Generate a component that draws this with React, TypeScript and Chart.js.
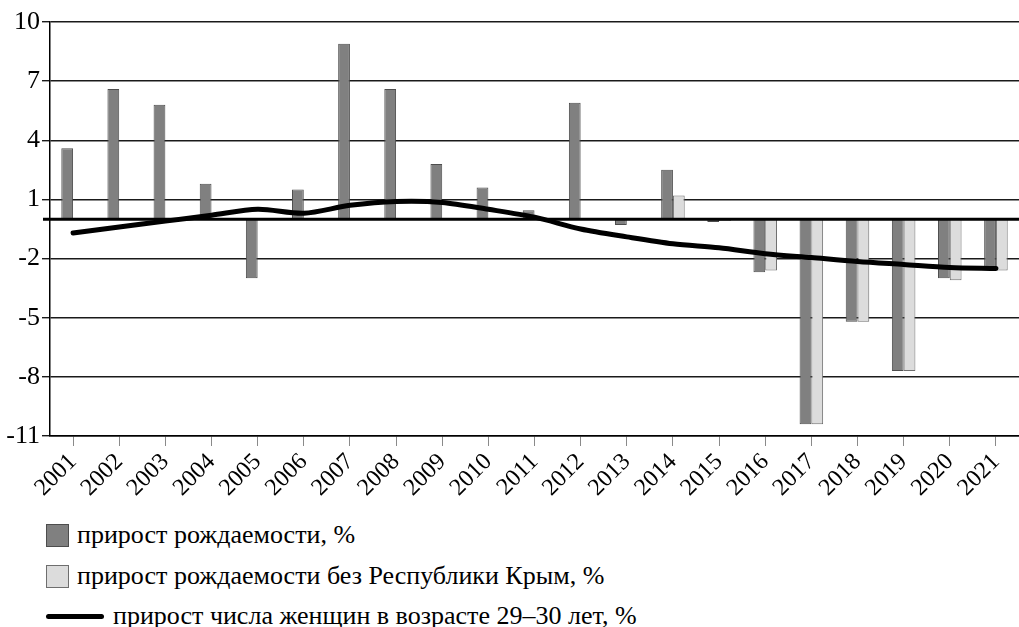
import React, { useEffect, useRef } from "react";
import { Chart, registerables } from "chart.js";

Chart.register(...registerables);

const years = ["2001","2002","2003","2004","2005","2006","2007","2008","2009","2010","2011","2012","2013","2014","2015","2016","2017","2018","2019","2020","2021"];
const birthGrowth = [3.6, 6.6, 5.8, 1.8, -3.0, 1.5, 8.9, 6.6, 2.8, 1.6, 0.45, 5.9, -0.3, 2.5, -0.15, -2.7, -10.4, -5.2, -7.7, -3.0, -2.5];
const birthGrowthNoCrimea = [null, null, null, null, null, null, null, null, null, null, null, null, null, 1.2, -0.1, -2.6, -10.4, -5.2, -7.7, -3.1, -2.6];
const womenGrowth = [-0.7, -0.4, -0.1, 0.2, 0.5, 0.3, 0.7, 0.9, 0.85, 0.5, 0.1, -0.5, -0.9, -1.25, -1.45, -1.75, -1.95, -2.15, -2.3, -2.45, -2.5];
const yTicks = [-11, -8, -5, -2, 1, 4, 7, 10];

const labelBirth = "прирост рождаемости, %";
const labelNoCrimea = "прирост рождаемости без Республики Крым, %";
const labelWomen = "прирост числа женщин в возрасте 29–30 лет, %";

const FONT = '"Liberation Serif", "DejaVu Serif", Tinos, "Times New Roman", Times, serif';

const zeroLine = {
  id: "zeroLine",
  afterDatasetsDraw(chart: any) {
    const y = chart.scales.y.getPixelForValue(0);
    const { left, right } = chart.chartArea;
    const ctx = chart.ctx;
    ctx.save();
    ctx.strokeStyle = "#000";
    ctx.lineWidth = 3;
    ctx.beginPath();
    ctx.moveTo(left - 7, y);
    ctx.lineTo(right, y);
    ctx.stroke();
    ctx.restore();
  },
};

export default function App() {
  const ref = useRef<HTMLCanvasElement>(null);
  useEffect(() => {
    if (!ref.current) return;
    const chart = new Chart(ref.current, {
      type: "bar",
      data: {
        labels: years,
        datasets: [
          {
            type: "line",
            label: labelWomen,
            data: womenGrowth,
            borderColor: "#000",
            borderWidth: 5,
            pointRadius: 0,
            tension: 0.3,
            borderCapStyle: "round",
            borderJoinStyle: "round",
            order: 0,
          } as any,
          {
            label: labelBirth,
            data: birthGrowth,
            backgroundColor: "#808080",
            borderColor: "#4d4d4d",
            borderWidth: 1,
            order: 1,
          },
          {
            label: labelNoCrimea,
            data: birthGrowthNoCrimea as any,
            backgroundColor: "#dcdcdc",
            borderColor: "#6e6e6e",
            borderWidth: 1,
            order: 2,
          },
        ],
      },
      options: {
        animation: false,
        responsive: false,
        maintainAspectRatio: false,
        layout: { padding: { top: 22, right: 0, left: 0, bottom: 0 } },
        datasets: { bar: { categoryPercentage: 0.51, barPercentage: 1.0 } },
        plugins: { legend: { display: false }, tooltip: { enabled: false } },
        scales: {
          x: {
            offset: true,
            grid: { display: true, drawOnChartArea: false, drawTicks: true, tickLength: 10, color: "#8a8a8a", offset: false, lineWidth: 1 },
            border: { display: true, color: "#000", width: 1.5 },
            ticks: { color: "#000", font: { family: FONT, size: 24 }, minRotation: 45, maxRotation: 45, padding: 2, autoSkip: false },
            afterFit: (s: any) => { s.height = 64; },
          },
          y: {
            min: -11,
            max: 10,
            afterBuildTicks: (s: any) => { s.ticks = yTicks.map((v) => ({ value: v })); },
            grid: { color: "#1a1a1a", lineWidth: 1.4, drawTicks: true, tickLength: 8 },
            border: { display: true, color: "#000", width: 1.5 },
            ticks: { color: "#000", font: { family: FONT, size: 26 }, padding: 2 },
            afterFit: (s: any) => { s.width = 50; },
          },
        },
      },
      plugins: [zeroLine],
    });
    return () => chart.destroy();
  }, []);

  const row: React.CSSProperties = { position: "absolute", left: 46, display: "flex", alignItems: "center", height: 30, fontFamily: FONT, fontSize: 26, color: "#000", whiteSpace: "nowrap" };
  const box = (bg: string, bd: string): React.CSSProperties => ({ width: 21, height: 21, background: bg, border: `1px solid ${bd}`, marginRight: 8 });

  return (
    <div style={{ position: "absolute", left: 0, top: 0, width: 1019, height: 627, background: "#fff" }}>
      <canvas ref={ref} width={1019} height={500} style={{ position: "absolute", left: 0, top: 0, width: 1019, height: 500 }} />
      <div style={{ ...row, top: 520 }}>
        <div style={box("#808080", "#4d4d4d")} />
        <span>{labelBirth}</span>
      </div>
      <div style={{ ...row, top: 561 }}>
        <div style={box("#dcdcdc", "#6e6e6e")} />
        <span>{labelNoCrimea}</span>
      </div>
      <div style={{ ...row, top: 601 }}>
        <div style={{ width: 58, height: 5, background: "#000", borderRadius: 3, marginRight: 9 }} />
        <span>{labelWomen}</span>
      </div>
    </div>
  );
}
